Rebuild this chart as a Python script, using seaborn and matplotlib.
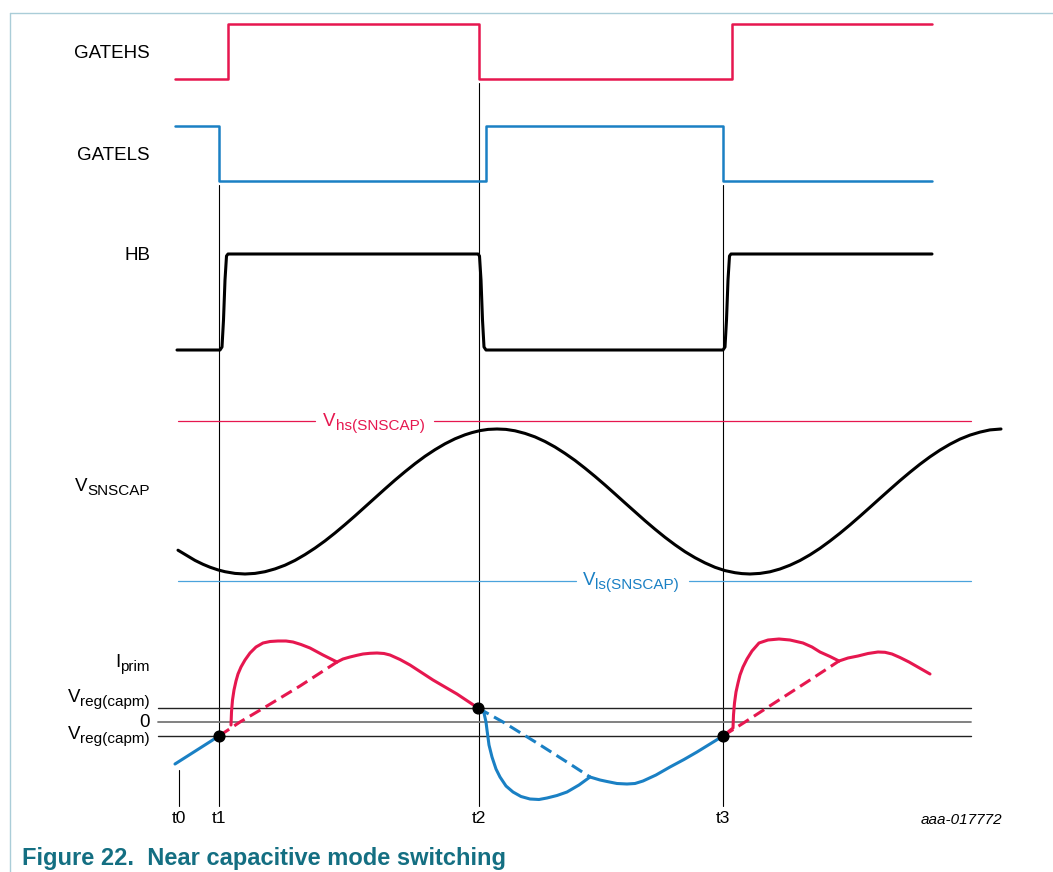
import pandas as pd
import seaborn as sns
from matplotlib import pyplot as plt

sns.set_style("white")
plt.rcParams['font.family'] = ['Liberation Sans', 'DejaVu Sans']
plt.rcParams['text.color'] = 'black'

red = '#e6174f'
blue = '#1a80c4'

# time marks (picture x units)
t_names = ['t0', 't1', 't2', 't3']
t_pos = [179, 219, 479, 723]
t_top = [770, 185, 83, 185]

# gate signals (step points)
gatehs_x = [175, 228, 479, 732, 932]
gatehs_y = [79, 24, 79, 24, 24]
gatels_x = [175, 219, 486, 723, 932]
gatels_y = [126, 181, 126, 181, 181]

# half bridge node
hb_x = [177, 220, 222, 223.5, 225, 226.5, 228, 478, 479.5, 481, 482.5, 484, 486,
        723, 725, 726.5, 728, 729.5, 731, 932]
hb_y = [350, 350, 347, 320, 280, 256, 254, 254, 256, 280, 320, 347, 350,
        350, 347, 320, 280, 256, 254, 254]

# snubber capacitor voltage
vsn_x = [178, 187, 195, 203, 210, 218, 225, 235, 245, 255, 265, 275, 285, 295, 305, 315,
         325, 335, 345, 355, 365, 375, 385, 395, 405, 415, 425, 435, 445, 455, 465, 472,
         480, 488, 497, 506, 515, 525, 535, 545, 555, 565, 575, 585, 595, 605, 615, 625,
         635, 645, 655, 665, 675, 685, 695, 705, 715, 725, 735, 742, 750, 760, 770, 780,
         790, 800, 810, 820, 830, 840, 850, 860, 870, 880, 890, 900, 910, 920, 930, 940,
         950, 960, 970, 980, 990, 1001]
vsn_y = [550.2, 555.6, 560.4, 564.3, 567.2, 569.9, 571.7, 573.4, 574.0, 573.4, 571.7,
         568.9, 565.2, 560.4, 554.6, 548.1, 540.9, 533.0, 524.6, 515.9, 506.9, 497.9,
         488.9, 480.1, 471.7, 463.7, 456.3, 449.7, 443.8, 438.8, 434.8, 432.6, 430.6,
         429.4, 429.0, 429.4, 430.8, 433.4, 436.9, 441.5, 447.0, 453.4, 460.4, 468.2,
         476.4, 485.0, 493.9, 502.9, 511.8, 520.7, 529.2, 537.3, 544.8, 551.7, 557.7,
         562.9, 567.3, 570.6, 572.7, 573.6, 574.0, 573.4, 571.8, 569.0, 565.2, 560.5,
         554.8, 548.3, 541.0, 533.2, 524.9, 516.2, 507.3, 498.3, 489.4, 480.6, 472.2,
         464.2, 456.8, 450.1, 444.2, 439.1, 435.1, 432.1, 429.9, 429.0]
vhs_level = 421
vls_level = 581
thr_x = [178, 971]

# primary current levels
vreg_hi, zero_lvl, vreg_lo = 708, 722, 736
lvl_x = [158, 971]

ip_blue0_x = [175, 219]
ip_blue0_y = [764, 736]
ip_dash1_x = [219, 240, 267, 300, 337]
ip_dash1_y = [736, 722, 706, 686, 662]
ip_hump1_x = [231, 231.5, 232.5, 234, 236, 238, 241, 245, 250, 256, 263, 270, 278, 286, 293, 301, 310, 323, 337]
ip_hump1_y = [725, 712, 700, 690, 681, 674, 667, 660, 653, 647, 643, 641.5, 641, 641, 642, 644.5, 648, 655, 662]
ip_tail1_x = [337, 343, 350, 357, 363, 370, 377, 384, 390, 400, 410, 433, 457, 478]
ip_tail1_y = [662, 659, 657, 655.3, 654, 653.3, 653, 653.5, 655, 659.5, 665, 680, 694, 708]
ip_dash2_x = [478, 503, 537, 570, 590]
ip_dash2_y = [708, 722, 743, 764, 777]
ip_drop_x = [478, 484, 486, 487, 489, 492, 496, 500, 506, 513, 521, 530, 539, 547, 557, 567, 579, 590]
ip_drop_y = [708, 713, 722, 730, 745, 757, 769, 777, 786, 792, 796.5, 799, 799.5, 798, 795.5, 792, 785, 777]
ip_rise_x = [590, 600, 607, 617, 627, 635, 643, 656, 670, 684, 697, 710, 723]
ip_rise_y = [777, 780, 781.5, 783.5, 784, 783.5, 781, 775, 767, 759.5, 752, 744, 736]
ip_dash3_x = [723, 745, 779, 810, 839]
ip_dash3_y = [736, 722, 700, 680, 661]
ip_hump2_x = [723, 733, 733.5, 734.5, 736, 738, 740, 743, 747, 752, 759, 768, 779, 790, 803, 812, 820, 830, 839]
ip_hump2_y = [736, 728, 715, 703, 692, 683, 675, 667, 659, 651, 643, 640, 639, 640, 643, 647, 652, 656.5, 661]
ip_tail2_x = [839, 848, 858, 868, 878, 885, 892, 900, 909, 930]
ip_tail2_y = [661, 658, 656, 653.5, 652, 652.3, 654, 657.5, 662, 674]
dot_x = [219, 478, 723]
dot_y = [736, 708, 736]

fig = plt.figure(figsize=(10.53, 8.72), dpi=100)
ax = fig.add_axes([0, 0, 1, 1])
ax.set_xlim(0, 1053)
ax.set_ylim(872, 0)
ax.axis('off')
renderer = fig.canvas.get_renderer()

# frame
ax.plot([10, 10], [872, 13], color='#aacdd8', lw=1)
ax.plot([10, 1053], [13, 13], color='#aacdd8', lw=1)


def line(x, y, color, lw=2.2, ls='-', **kw):
    df = pd.DataFrame({'x': x, 'y': y})
    sns.lineplot(data=df, x='x', y='y', sort=False, estimator=None, ax=ax,
                 color=color, lw=lw, linestyle=ls, solid_joinstyle='round', **kw)


def sub_label(x, y, main, sub, color='black', align='right', size=13.5, subsize=11):
    # main letter + subscript, y = baseline of the main letter
    kw = dict(color=color, va='baseline', ha='left')
    m = ax.text(0, y, main, fontsize=size, **kw)
    s = ax.text(0, y + 4, sub, fontsize=subsize, **kw)
    wm = m.get_window_extent(renderer).width
    ws = s.get_window_extent(renderer).width
    left = x - wm - ws if align == 'right' else x - (wm + ws) / 2
    m.set_x(left)
    s.set_x(left + wm)


line(gatehs_x, gatehs_y, red, lw=1.8, drawstyle='steps-post')
line(gatels_x, gatels_y, blue, lw=1.8, drawstyle='steps-post')
line(hb_x, hb_y, 'black', lw=2.2)

# vertical time marks
for name, x, top in zip(t_names, t_pos, t_top):
    ax.plot([x, x], [top, 806], color='black', lw=0.8, zorder=1)
    ax.text(x, 818, name, ha='center', va='center', fontsize=12.5)

# thresholds
ax.plot([thr_x[0], 315], [vhs_level] * 2, color=red, lw=0.9)
ax.plot([434, thr_x[1]], [vhs_level] * 2, color=red, lw=0.9)
ax.plot([thr_x[0], 576], [vls_level] * 2, color='#4aa3dc', lw=0.9)
ax.plot([689, thr_x[1]], [vls_level] * 2, color='#4aa3dc', lw=0.9)
sub_label(374, 426, 'V', 'hs(SNSCAP)', color=red, align='center')
sub_label(631, 585, 'V', 'ls(SNSCAP)', color=blue, align='center')
line(vsn_x, vsn_y, 'black', lw=2.2)

# current levels
ax.plot(lvl_x, [vreg_hi] * 2, color='#222222', lw=1)
ax.plot(lvl_x, [zero_lvl] * 2, color='#777777', lw=1.3)
ax.plot(lvl_x, [vreg_lo] * 2, color='#222222', lw=1)

line(ip_blue0_x, ip_blue0_y, blue)
line(ip_dash1_x, ip_dash1_y, red, ls=(0, (4, 2)))
line(ip_hump1_x, ip_hump1_y, red)
line(ip_tail1_x, ip_tail1_y, red)
line(ip_dash2_x, ip_dash2_y, blue, ls=(0, (4, 2)))
line(ip_drop_x, ip_drop_y, blue)
line(ip_rise_x, ip_rise_y, blue)
line(ip_dash3_x, ip_dash3_y, red, ls=(0, (4, 2)))
line(ip_hump2_x, ip_hump2_y, red)
line(ip_tail2_x, ip_tail2_y, red)
ax.scatter(dot_x, dot_y, s=60, color='black', zorder=5)

# signal names
for txt, y in [('GATEHS', 53), ('GATELS', 156), ('HB', 255), ('0', 722)]:
    ax.text(150, y, txt, ha='right', va='center', fontsize=13.5)
sub_label(150, 491, 'V', 'SNSCAP')
sub_label(150, 667, 'I', 'prim')
sub_label(150, 702, 'V', 'reg(capm)')
sub_label(150, 739, 'V', 'reg(capm)')

ax.text(1002, 820, 'aaa-017772', ha='right', va='center', fontsize=11, style='italic')
ax.text(22, 858, 'Figure 22.  Near capacitive mode switching', ha='left', va='center',
        fontsize=17, fontweight='bold', color='#146f82')

fig.savefig('out.png', dpi=100)
